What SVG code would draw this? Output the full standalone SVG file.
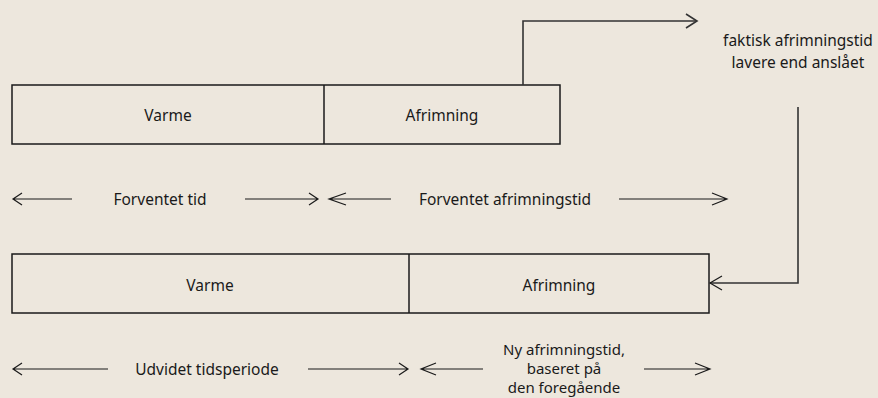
<svg xmlns="http://www.w3.org/2000/svg" width="878" height="398" viewBox="0 0 878 398">
<defs>
<style>
.bg{fill:#ede7dd}
.box{fill:none;stroke:#1a1a1a;stroke-width:1.5}
.ln{fill:none;stroke:#1a1a1a;stroke-width:1.2}
.cn{fill:none;stroke:#333;stroke-width:1.6}
.t{font-family:"Noto Sans","Open Sans","Liberation Sans",sans-serif;font-size:15.5px;fill:#1a1a1a;text-anchor:middle;dominant-baseline:central}
.s{font-size:15px}
</style>
</defs>
<rect class="bg" x="0" y="0" width="878" height="398"/>
<g id="top-bar">
<rect class="box" x="12" y="85" width="548" height="59"/>
<line class="box" x1="324" y1="85" x2="324" y2="144"/>
<text class="t" x="168" y="115">Varme</text>
<text class="t" x="442" y="115">Afrimning</text>
</g>
<g id="bottom-bar">
<rect class="box" x="12" y="254" width="697" height="59"/>
<line class="box" x1="409" y1="254" x2="409" y2="313"/>
<text class="t" x="210" y="285">Varme</text>
<text class="t" x="559" y="285">Afrimning</text>
</g>
<g id="note">
<text class="t" x="798" y="40">faktisk afrimningstid</text>
<text class="t" x="798" y="62">lavere end anslået</text>
</g>
<g id="labels">
<text class="t" x="160" y="199">Forventet tid</text>
<text class="t" x="505" y="199">Forventet afrimningstid</text>
<text class="t" x="207" y="369">Udvidet tidsperiode</text>
<text class="t s" x="564" y="349">Ny afrimningstid,</text>
<text class="t s" x="564" y="368">baseret på</text>
<text class="t s" x="564" y="387">den foregående</text>
</g>
<g id="connectors">
<path class="cn" d="M523 85 V21 H697"/>
<path class="cn" d="M686 14 L697 21 L686 28"/>
<path class="cn" d="M798 107 V283 H710"/>
<path class="ln" d="M722 276 L710 283 L722 290"/>
<path class="ln" d="M13 199 H72 M22 193 L13 199 L22 205"/>
<path class="ln" d="M245 199 H318 M309 193 L318 199 L309 205"/>
<path class="ln" d="M329 199 H391 M346 193 L329 199 L346 205"/>
<path class="ln" d="M619 199 H727 M712 193 L727 199 L712 205"/>
<path class="ln" d="M13 369 H108 M22 363 L13 369 L22 375"/>
<path class="ln" d="M308 369 H408 M399 363 L408 369 L399 375"/>
<path class="ln" d="M421 369 H483 M436 363 L421 369 L436 375"/>
<path class="ln" d="M644 369 H710 M695 363 L710 369 L695 375"/>
</g>
</svg>
